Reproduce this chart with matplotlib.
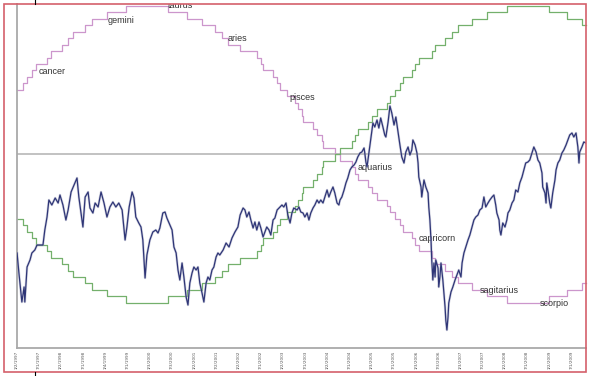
import matplotlib.pyplot as plt
from matplotlib.lines import Line2D
from matplotlib.patches import Rectangle

# closing prices, x = months from the first date
price_month = [0.1, 0.6, 1.4, 2.0, 2.2, 2.8, 3.6, 4.1, 4.9, 5.5, 6.3, 7.1, 7.6, 8.2, 8.7, 9.5,
               10.4, 11.2, 11.7, 12.5, 13.3, 13.9, 14.7, 15.5, 16.3, 16.8, 17.4, 17.9, 18.5, 19.3,
               19.8, 20.6, 21.2, 22.0, 22.8, 23.6, 24.4, 25.2, 26.0, 26.8, 27.6, 28.5, 29.3, 29.8,
               30.4, 31.2, 31.7, 32.2, 33.0, 33.6, 34.1, 34.7, 35.2, 36.0, 36.8, 37.6, 38.2, 38.7,
               39.5, 40.1, 40.6, 41.4, 42.0, 42.5, 43.1, 43.6, 44.1, 44.7, 45.2, 45.8, 46.3, 46.8,
               47.4, 47.9, 48.5, 49.0, 49.5, 50.1, 50.6, 51.2, 51.7, 52.2, 52.8, 53.3, 53.9, 54.4,
               54.9, 55.8, 56.6, 57.4, 58.2, 59.0, 59.8, 60.4, 61.2, 61.7, 62.2, 62.8, 63.3, 63.9,
               64.4, 64.9, 65.5, 66.0, 66.6, 67.1, 67.6, 68.2, 68.7, 69.3, 69.8, 70.4, 71.2, 71.7,
               72.2, 72.8, 73.3, 73.9, 74.4, 74.9, 75.8, 76.3, 76.8, 77.4, 77.9, 78.5, 79.0, 79.5,
               80.1, 80.6, 81.2, 81.7, 82.2, 82.8, 83.3, 83.9, 84.4, 84.9, 85.5, 86.0, 86.6, 87.1,
               87.4, 87.9, 88.5, 89.0, 89.5, 90.1, 90.6, 91.2, 91.7, 92.2, 92.8, 93.3, 93.9, 94.1,
               94.4, 94.7, 95.2, 95.8, 96.3, 96.8, 97.4, 97.9, 98.4, 99.0, 99.5, 99.8, 100.4, 100.9,
               101.4, 102.0, 102.5, 103.0, 103.6, 104.1, 104.7, 105.2, 105.8, 106.3, 106.8, 107.1,
               107.7, 108.2, 108.5, 108.7, 109.3, 109.5, 110.1, 110.6, 111.2, 111.4, 111.7, 112.0,
               112.2, 112.5, 112.8, 113.1, 113.3, 113.9, 114.1, 114.4, 114.7, 115.2, 115.5, 115.8,
               116.0, 116.3, 116.6, 116.8, 117.4, 117.9, 118.5, 119.0, 119.5, 120.1, 120.4, 120.9,
               121.4, 122.0, 122.5, 123.1, 123.6, 124.1, 124.7, 125.2, 125.8, 126.3, 126.8, 127.4,
               127.9, 128.5, 129.0, 129.5, 129.8, 130.4, 130.6, 130.9, 131.4, 132.0, 132.5, 132.8,
               133.3, 133.9, 134.4, 134.9, 135.5, 136.0, 136.6, 137.1, 137.6, 138.2, 138.7, 139.3,
               139.8, 140.4, 140.9, 141.4, 142.0, 142.2, 142.8, 143.1, 143.3, 143.6, 144.1, 144.4,
               144.9, 145.5, 145.8, 146.3, 146.8, 147.4, 147.9, 148.5, 149.0, 149.5, 150.1, 150.6,
               151.2, 151.7, 152.0, 152.2, 152.8, 153.3, 153.9]
price_close = [988, 908, 792, 852, 792, 932, 960, 988, 1000, 1020, 1020, 1020, 1080, 1132, 1200, 1180,
               1208, 1188, 1220, 1180, 1120, 1160, 1232, 1260, 1288, 1212, 1148, 1092, 1212, 1232,
               1168, 1148, 1188, 1172, 1232, 1188, 1132, 1172, 1192, 1172, 1188, 1160, 1040, 1092,
               1172, 1232, 1208, 1132, 1108, 1092, 1040, 888, 980, 1040, 1072, 1080, 1068, 1088,
               1148, 1152, 1128, 1100, 1080, 1012, 988, 920, 880, 948, 892, 812, 780, 868,
               908, 932, 920, 932, 868, 828, 792, 868, 892, 880, 920, 932, 972, 988,
               980, 1000, 1028, 1012, 1048, 1072, 1092, 1140, 1168, 1160, 1132, 1152, 1120, 1088,
               1112, 1080, 1112, 1088, 1052, 1072, 1092, 1080, 1060, 1120, 1128, 1160, 1172, 1180,
               1172, 1188, 1140, 1108, 1148, 1168, 1160, 1172, 1152, 1148, 1132, 1148, 1120, 1148,
               1168, 1180, 1200, 1188, 1200, 1188, 1212, 1240, 1212, 1232, 1252, 1228, 1188, 1180,
               1200, 1212, 1240, 1268, 1288, 1320, 1332, 1340, 1352, 1372, 1388, 1392, 1408, 1388,
               1352, 1332, 1388, 1452, 1508, 1492, 1520, 1488, 1528, 1492, 1460, 1452, 1512, 1576,
               1548, 1500, 1532, 1480, 1420, 1372, 1348, 1392, 1412, 1380, 1400, 1440,
               1420, 1388, 1348, 1292, 1252, 1212, 1280, 1252, 1228, 1172, 1120, 1040,
               960, 880, 948, 892, 960, 928, 852, 892, 948, 880, 828, 772,
               720, 680, 732, 788, 832, 852, 880, 900, 920, 892, 948, 988,
               1012, 1040, 1060, 1092, 1120, 1132, 1140, 1160, 1168, 1212, 1172, 1188,
               1200, 1212, 1220, 1180, 1148, 1120, 1080, 1060, 1108, 1092, 1120, 1148,
               1160, 1188, 1200, 1240, 1232, 1268, 1292, 1320, 1348, 1352, 1360, 1388,
               1412, 1392, 1360, 1348, 1308, 1252, 1228, 1188, 1268, 1240, 1188, 1168,
               1228, 1280, 1320, 1348, 1360, 1388, 1400, 1420, 1440, 1460, 1468, 1452,
               1468, 1412, 1348, 1392, 1412, 1432, 1428]

# declination of the nodes in whole degrees, x = month where each step begins
step_month = [0, 1.7, 2.8, 4.1, 5.2, 8.2, 9.3, 12.2, 13.9, 15.2, 18.5, 20.4, 24.4, 29.5,
              40.9, 46.0, 50.1, 53.6, 55.5, 57.1, 60.4, 64.9, 66.0, 66.6, 69.3, 70.4, 71.2,
              73.1, 75.2, 76.0, 77.1, 77.4, 80.1, 81.2, 82.5, 82.8, 86.0, 87.4, 90.6, 91.4,
              92.2, 94.9, 96.0, 97.4, 100.1, 100.9, 102.3, 103.6, 104.4, 106.8, 107.7, 108.7,
              112.2, 113.1, 115.8, 117.6, 119.3, 123.1, 127.1, 132.5, 143.9, 148.7, 152.8, 153.9]
north_node = [10, 11, 12, 13, 14, 15, 16, 17, 18, 19, 20, 21, 22, 23,
              22, 21, 20, 19, 18, 17, 16, 15, 14, 13, 12, 11, 10,
              9, 8, 7, 6, 5, 4, 3, 2, 1, 0, -1, -2, -3,
              -4, -5, -6, -7, -8, -9, -10, -11, -12, -13, -14, -15,
              -16, -17, -18, -19, -20, -21, -22, -23, -22, -21, -20, -20]
south_node = [-10, -11, -12, -13, -14, -15, -16, -17, -18, -19, -20, -21, -22, -23,
              -22, -21, -20, -19, -18, -17, -16, -15, -14, -13, -12, -11, -10,
              -9, -8, -7, -6, -5, -4, -3, -2, -1, 0, 1, 2, 3,
              4, 5, 6, 7, 8, 9, 10, 11, 12, 13, 14, 15,
              16, 17, 18, 19, 20, 21, 22, 23, 22, 21, 20, 20]

sign_names = ['cancer', 'gemini', 'taurus', 'aries', 'pisces', 'aquarius',
              'capricorn', 'sagitarius', 'scorpio']
sign_month = [5.8, 24.7, 40.9, 57.1, 73.6, 92.2, 108.7, 125.2, 141.4]
sign_decl = [12.8, 20.8, 23.0, 17.9, 8.8, -2.0, -13.1, -21.1, -23.1]

tick_labels = ['1/2/1997', '7/1/1997', '1/2/1998', '7/1/1998', '1/4/1999', '7/1/1999',
               '1/3/2000', '7/3/2000', '1/2/2001', '7/2/2001', '1/2/2002', '7/1/2002',
               '1/2/2003', '7/1/2003', '1/2/2004', '7/1/2004', '1/3/2005', '7/1/2005',
               '1/3/2006', '7/3/2006', '1/3/2007', '7/2/2007', '1/2/2008', '7/1/2008',
               '1/2/2009', '7/1/2009']

fig = plt.figure(figsize=(5.9, 3.76), dpi=100)
ax = fig.add_axes([16.7 / 590, 28 / 376, 569.3 / 590, 344 / 376])

ax.axhline(0, color='#bdbdbd', lw=1.3, zorder=1)
ax.step(step_month, north_node, where='post', color='#cc96cc', lw=0.9, clip_on=False, zorder=2)
ax.step(step_month, south_node, where='post', color='#74b06c', lw=0.9, clip_on=False, zorder=2)

for name, m, d in zip(sign_names, sign_month, sign_decl):
    ax.text(m, d, name, fontsize=6.5, family='Liberation Sans', color='#333333',
            ha='left', va='center', clip_on=True, zorder=3)

ax.set_xlim(0, 153.9)
ax.set_ylim(-30, 23.3)
ax.set_yticks([])
ax.set_xticks(range(0, 151, 6))
ax.set_xticklabels(tick_labels, rotation=90, fontsize=3, color='#555555')
ax.tick_params(axis='x', length=0, pad=2)
for s in ['top', 'right']:
    ax.spines[s].set_visible(False)
for s in ['left', 'bottom']:
    ax.spines[s].set_color('#a9a9a9')
    ax.spines[s].set_linewidth(1.3)

ax2 = ax.twinx()
ax2.plot(price_month, price_close, color='#a8aac4', lw=1.8, alpha=0.5)
ax2.plot(price_month, price_close, color='#2f3677', lw=0.9)
ax2.set_ylim(608, 1984)
ax2.set_yticks([])
for s in ax2.spines.values():
    s.set_visible(False)

# red frame and crop marks
fig.add_artist(Rectangle((3.5 / 590, 4 / 376), 582 / 590, 368 / 376, transform=fig.transFigure,
                         fill=False, edgecolor='#d4606b', lw=1.2))
fig.add_artist(Line2D([35 / 590, 35 / 590], [372 / 376, 1], transform=fig.transFigure, color='black', lw=0.8))
fig.add_artist(Line2D([35 / 590, 35 / 590], [0, 4 / 376], transform=fig.transFigure, color='black', lw=0.8))

fig.savefig('out.png', dpi=100)
